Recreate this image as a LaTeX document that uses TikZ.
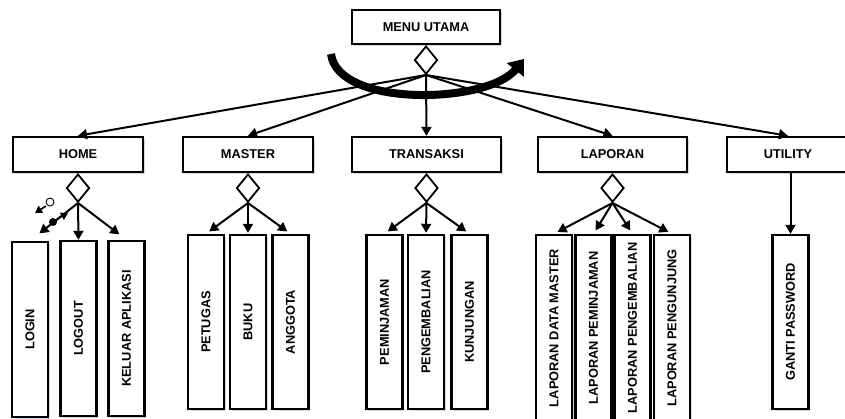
\documentclass[tikz,border=0pt]{standalone}
\usepackage{fontspec}
\setmainfont{Liberation Sans}
\usetikzlibrary{shapes.geometric,arrows.meta,shadows}
\tikzset{
  box/.style={draw, line width=2.4pt, fill=white, inner sep=0pt,
    font=\fontsize{12.8}{14}\selectfont\bfseries,
    drop shadow={shadow xshift=1.5pt, shadow yshift=-2pt, opacity=0.25, fill=blue!30!gray}},
  topbox/.style={box, minimum height=35pt},
  leafbox/.style={box, minimum width=36pt},
  dia/.style={diamond, draw, line width=1.8pt, fill=white, inner sep=0pt,
    minimum width=23pt, minimum height=28pt, anchor=north},
  arr/.style={line width=2pt, -{Triangle[length=9pt,width=10pt]}},
  sidearr/.style={arr, shorten >=4pt},
  tinyarr/.style={line width=1.6pt, -{Triangle[length=7pt,width=8pt]}},
  bigarc/.style={line width=8pt, -{Triangle[length=14pt,width=21pt]}}
}
\begin{document}
\begin{tikzpicture}[x=1pt,y=-1pt]
\useasboundingbox[fill=white] (0,0) rectangle (845,419);

% top level
\node[topbox, minimum width=148pt, minimum height=34pt] (menu) at (426,27) {MENU UTAMA};
\node[dia] (dmenu) at (menu.south) {};

\node[topbox, minimum width=130pt] (home) at (78,154.5) {HOME};
\node[topbox, minimum width=130pt] (master) at (248,154.5) {MASTER};
\node[topbox, minimum width=149pt] (trans) at (426.5,154.5) {TRANSAKSI};
\node[topbox, minimum width=149pt] (lap) at (612.5,154.5) {LAPORAN};
\node[topbox, minimum width=122pt] (util) at (788,154.5) {UTILITY};

% curved arrow
\coordinate (cs) at (331,54);
\coordinate (ce) at (524,59);
\draw[bigarc] (cs) .. controls (338,108) and (488,104) .. (ce);

\draw[arr] (dmenu.south) -- (home.north);
\draw[arr] (dmenu.south) -- (master.north);
\draw[arr] (dmenu.south) -- (trans.north);
\draw[arr] (dmenu.south) -- (lap.north);
\draw[arr] (dmenu.south) -- (util.north);

% sub diamonds
\node[dia] (dhome) at (home.south) {};
\node[dia] (dmaster) at (master.south) {};
\node[dia] (dtrans) at (trans.south) {};
\node[dia] (dlap) at (lap.south) {};

% HOME children
\node[leafbox, minimum height=175pt] (login) at (30,329.5) {\rotatebox{90}{LOGIN}};
\node[leafbox, minimum height=175pt] (logout) at (78.5,328.5) {\rotatebox{90}{LOGOUT}};
\node[leafbox, minimum height=175pt] (keluar) at (126.5,328.5) {\rotatebox{90}{KELUAR APLIKASI}};
\draw[sidearr, shorten >=12pt] (dhome.south) -- (login.north);
\draw[arr] (dhome.south) -- (logout.north);
\draw[sidearr, shorten >=9pt] (dhome.south) -- (keluar.north);

% couple symbols
\node[circle, draw, line width=0.9pt, fill=white, minimum size=8pt, inner sep=0pt] (oc) at (50,202) {};
\node[circle, fill, minimum size=8pt, inner sep=0pt] (fc) at (53,222) {};
\coordinate (oa1) at (46,206);
\coordinate (oa2) at (35,213);
\coordinate (fa1) at (57,219);
\coordinate (fa2) at (68,213);
\draw[tinyarr] (oa1) -- (oa2);
\draw[tinyarr] (fa1) -- (fa2);

% MASTER children
\node[leafbox, minimum height=174pt] (petugas) at (206,322) {\rotatebox{90}{PETUGAS}};
\node[leafbox, minimum height=174pt] (buku) at (248,322) {\rotatebox{90}{BUKU}};
\node[leafbox, minimum height=174pt] (anggota) at (290.5,322) {\rotatebox{90}{ANGGOTA}};
\draw[sidearr] (dmaster.south) -- (petugas.north);
\draw[arr, shorten >=1pt] (dmaster.south) -- (buku.north);
\draw[sidearr] (dmaster.south) -- (anggota.north);

% TRANSAKSI children
\node[leafbox, minimum height=174pt] (pinjam) at (384.5,322) {\rotatebox{90}{PEMINJAMAN}};
\node[leafbox, minimum height=174pt] (kembali) at (426,322) {\rotatebox{90}{PENGEMBALIAN}};
\node[leafbox, minimum height=174pt] (kunjung) at (469.5,322) {\rotatebox{90}{KUNJUNGAN}};
\draw[sidearr] (dtrans.south) -- (pinjam.north);
\draw[arr, shorten >=1pt] (dtrans.south) -- (kembali.north);
\draw[sidearr] (dtrans.south) -- (kunjung.north);

% LAPORAN children
\node[leafbox, minimum height=186pt] (lmaster) at (554,328) {\rotatebox{90}{LAPORAN DATA MASTER}};
\node[leafbox, minimum height=186pt] (lpinjam) at (593.5,328) {\rotatebox{90}{LAPORAN PEMINJAMAN}};
\node[leafbox, minimum height=186pt] (lkembali) at (632.5,328) {\rotatebox{90}{LAPORAN PENGEMBALIAN}};
\node[leafbox, minimum height=186pt] (lkunjung) at (672,328) {\rotatebox{90}{LAPORAN PENGUNJUNG}};
\draw[sidearr] (dlap.south) -- (lmaster.north);
\draw[sidearr] (dlap.south) -- (lpinjam.north);
\draw[sidearr] (dlap.south) -- (lkembali.north);
\draw[sidearr] (dlap.south) -- (lkunjung.north);

% UTILITY child
\node[leafbox, minimum height=174pt] (ganti) at (790.5,322) {\rotatebox{90}{GANTI PASSWORD}};
\draw[arr] (ganti.north |- util.south) -- (ganti.north);
\end{tikzpicture}
\end{document}
